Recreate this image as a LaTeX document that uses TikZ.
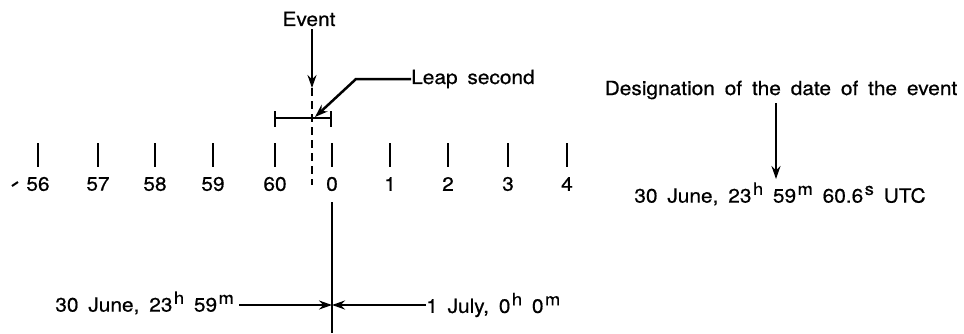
\documentclass[tikz,border=0pt]{standalone}
\usepackage{fontspec}
\setmainfont{TeX Gyre Heros}[FakeStretch=1.07, WordSpace=1.7, FakeBold=0.6]
\usetikzlibrary{arrows.meta}
\newcommand{\sups}[1]{\kern1.5pt\raisebox{0.75ex}{\fontsize{17}{17}\selectfont #1}}
\begin{document}
\begin{tikzpicture}[x=1pt,y=-1pt,
  lbl/.style={font=\fontsize{19.5}{21}\selectfont, inner sep=0pt},
  tickline/.style={line width=2.8pt},
  conn/.style={line width=2.5pt, -{Stealth[length=13pt,width=9pt]}},
  plain/.style={line width=2.5pt}]
\useasboundingbox (0,0) rectangle (964,333);
% ticks and labels
\foreach \x/\t [count=\i] in {38/56,98/57,155/58,213/59,275/60,332/0,390/1,448/2,508/3,567/4}{
  \coordinate (tt\i) at (\x,143);
  \coordinate (tb\i) at (\x,167);
  \draw[tickline] (tt\i) -- (tb\i);
  \node[lbl] (n\i) at (\x,184) {\t};
}
% small mark before 56
\coordinate (m1) at (12,186);
\coordinate (m2) at (18,182);
\draw[line width=2pt] (m1) -- (m2);
% Event
\node[lbl] (ev) at (309,19) {Event};
\coordinate (evtip) at (312,88);
\draw[conn] (ev.south -| evtip) ++(0,3) -- (evtip);
\coordinate (dashend) at (312,185);
\draw[line width=2.5pt, dash pattern=on 8pt off 5pt] (evtip) -- (dashend);
% bracket (leap second interval)
\coordinate (bl) at (275,118);
\coordinate (br) at (331,118);
\draw[plain] (bl) -- (br);
\draw[plain] (275,111) -- (275,127);
\draw[plain] (331,111) -- (331,127);
% Leap second
\node[lbl, anchor=west] (ls) at (411,79) {Leap second};
\coordinate (lsbend) at (356,79);
\coordinate (lstip) at (315,117);
\draw[conn] (ls.west) -- (lsbend) -- (lstip);
% designation
\node[lbl] (des) at (781,90) {Designation of the date of the event};
\node[lbl] (utc) at (780,194) {30 June, 23\sups{h} 59\sups{m} 60.6\sups{s} UTC};
\coordinate (dtop) at (776,103);
\coordinate (dtip) at (776,179);
\draw[conn] (dtop) -- (dtip);
% vertical line at 0
\coordinate (vtop) at (332,202);
\coordinate (vbot) at (332,333);
\draw[plain] (vtop) -- (vbot);
\coordinate (cross) at (332,305);
\node[lbl, anchor=east] (lt) at (234,303) {30 June, 23\sups{h} 59\sups{m}};
\node[lbl, anchor=west] (rt) at (426,305) {1 July, 0\sups{h} 0\sups{m}};
\draw[conn] (lt.east |- cross) ++(5,0) -- (cross);
\draw[conn] (rt.west |- cross) -- (cross);
\end{tikzpicture}
\end{document}
